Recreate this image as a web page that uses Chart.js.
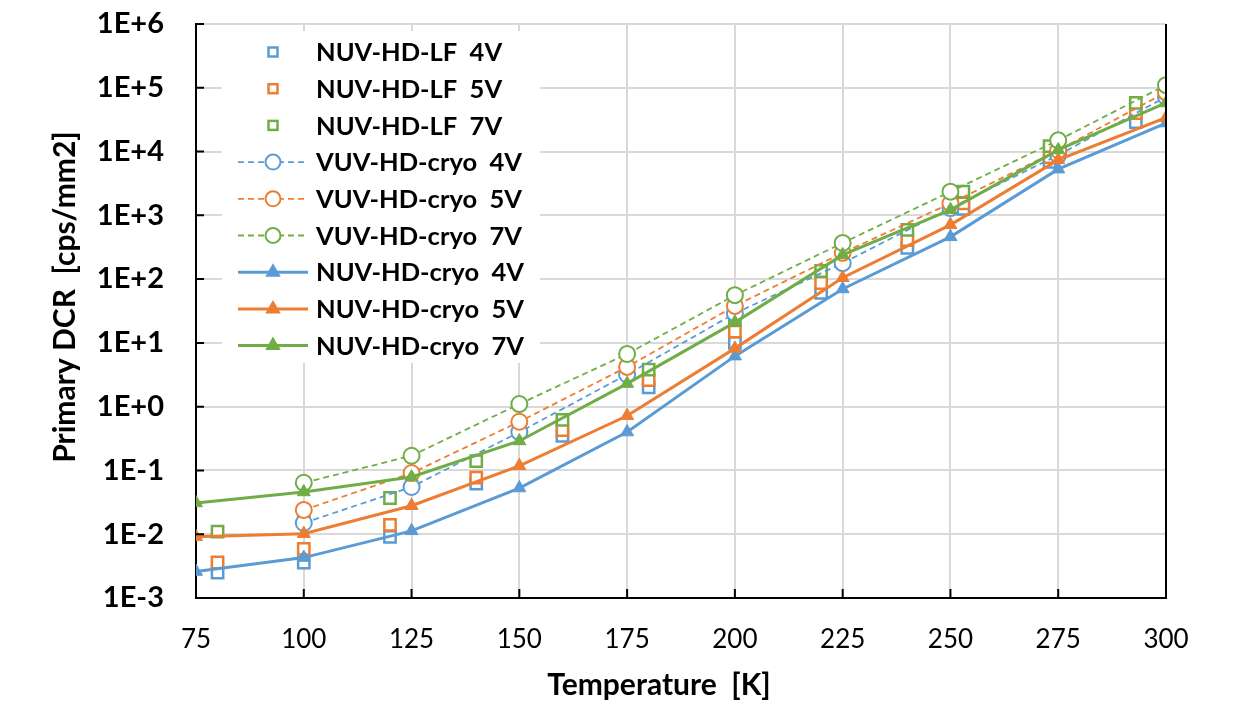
<!DOCTYPE html>
<html>
<head>
<meta charset="utf-8">
<script src="https://cdn.jsdelivr.net/npm/chart.js@4.4.1/dist/chart.umd.min.js"></script>
<style>
  html, body { margin: 0; padding: 0; background: #fff; }
  #wrap { width: 1235px; height: 701px; position: relative; }
</style>
</head>
<body>
<div id="wrap"><canvas id="dcrCanvas" width="1235" height="701"></canvas></div>
<script>
// --- data (Primary DCR in cps/mm2 vs temperature in K) ---
const lfTemps = [80, 100, 120, 140, 160, 180, 200, 220, 240, 253, 273, 293];
const lf4V = [0.0025, 0.0036, 0.0091, 0.062, 0.35, 2.0, 10, 61, 310, 1260, 6900, 29000];
const lf5V = [0.0036, 0.0059, 0.014, 0.077, 0.43, 2.6, 15, 87, 410, 1540, 8200, 40000];
const lf7V = [0.011, 0.019, 0.037, 0.14, 0.62, 3.8, 23, 134, 590, 2350, 12200, 58000];

const vuvTemps = [100, 125, 150, 175, 200, 225, 250, 275, 300];
const vuv4V = [0.015, 0.055, 0.40, 3.2, 29, 178, 1300, 8800, 72000];
const vuv5V = [0.024, 0.091, 0.58, 4.2, 38, 258, 1540, 10500, 85000];
const vuv7V = [0.064, 0.17, 1.1, 6.7, 56, 369, 2350, 15000, 110000];

const cryoTemps = [75, 100, 125, 150, 175, 200, 225, 250, 275, 300];
const cryo4V = [0.0026, 0.0043, 0.0113, 0.053, 0.40, 6.2, 70, 460, 5300, 28000];
const cryo5V = [0.0091, 0.0102, 0.028, 0.118, 0.72, 8.2, 105, 710, 7400, 34000];
const cryo7V = [0.031, 0.046, 0.079, 0.29, 2.3, 21, 240, 1220, 10600, 57800];

const seriesLabels = [
  'NUV-HD-LF  4V', 'NUV-HD-LF  5V', 'NUV-HD-LF  7V',
  'VUV-HD-cryo  4V', 'VUV-HD-cryo  5V', 'VUV-HD-cryo  7V',
  'NUV-HD-cryo  4V', 'NUV-HD-cryo  5V', 'NUV-HD-cryo  7V'
];

const xTicks = [75, 100, 125, 150, 175, 200, 225, 250, 275, 300];
const yTickValues = [1e-3, 1e-2, 1e-1, 1e0, 1e1, 1e2, 1e3, 1e4, 1e5, 1e6];
const yTickLabels = ['1E-3', '1E-2', '1E-1', '1E+0', '1E+1', '1E+2', '1E+3', '1E+4', '1E+5', '1E+6'];
const yTitle = 'Primary DCR  [cps/mm2]';
const xTitle = 'Temperature  [K]';

const BLUE = '#5b9bd5';
const ORANGE = '#ed7d31';
const GREEN = '#70ad47';
const GRID = '#d9d9d9';
const FONT = 'Lato, "Open Sans", sans-serif';

function pts(xs, ys) {
  return xs.map((x, i) => ({ x: x, y: ys[i] }));
}

function lfSet(label, xs, ys, color, order) {
  return {
    label: label, data: pts(xs, ys), showLine: false,
    pointStyle: 'rect', pointRadius: 8, pointBorderWidth: 2.5,
    borderColor: color, pointBorderColor: color, pointBackgroundColor: '#fff',
    order: order
  };
}
function vuvSet(label, xs, ys, color, order) {
  return {
    label: label, data: pts(xs, ys), showLine: true,
    borderColor: color, borderWidth: 1.8, borderDash: [6, 4],
    pointStyle: 'circle', pointRadius: 8, pointBorderWidth: 2,
    pointBorderColor: color, pointBackgroundColor: '#fff',
    order: order
  };
}
function cryoSet(label, xs, ys, color, order) {
  return {
    label: label, data: pts(xs, ys), showLine: true,
    borderColor: color, borderWidth: 3,
    pointStyle: 'triangle', pointRadius: 7.5, pointBorderWidth: 1,
    pointBorderColor: color, pointBackgroundColor: color,
    order: order
  };
}

const datasets = [
  lfSet(seriesLabels[0], lfTemps, lf4V, BLUE, 9),
  lfSet(seriesLabels[1], lfTemps, lf5V, ORANGE, 8),
  lfSet(seriesLabels[2], lfTemps, lf7V, GREEN, 7),
  vuvSet(seriesLabels[3], vuvTemps, vuv4V, BLUE, 6),
  vuvSet(seriesLabels[4], vuvTemps, vuv5V, ORANGE, 5),
  vuvSet(seriesLabels[5], vuvTemps, vuv7V, GREEN, 4),
  cryoSet(seriesLabels[6], cryoTemps, cryo4V, BLUE, 3),
  cryoSet(seriesLabels[7], cryoTemps, cryo5V, ORANGE, 2),
  cryoSet(seriesLabels[8], cryoTemps, cryo7V, GREEN, 1)
];

// inward tick marks, black right border and both axis titles (Excel style)
const framePlugin = {
  id: 'frame',
  afterDraw(chart) {
    const c = chart.ctx;
    const area = chart.chartArea;
    const xs = chart.scales.x;
    const ys = chart.scales.y;
    c.save();
    c.strokeStyle = '#000';
    c.lineWidth = 2;
    c.beginPath();
    c.moveTo(area.right, area.top);
    c.lineTo(area.right, area.bottom);
    yTickValues.forEach(v => {
      const py = ys.getPixelForValue(v);
      c.moveTo(area.left, py);
      c.lineTo(area.left + 8, py);
    });
    xTicks.forEach(v => {
      const px = xs.getPixelForValue(v);
      c.moveTo(px, area.bottom);
      c.lineTo(px, area.bottom - 9);
    });
    c.stroke();

    c.fillStyle = '#000';
    c.font = 'bold 30px ' + FONT;
    c.textAlign = 'center';
    c.textBaseline = 'middle';
    // titles sit a little off the plot centre in the original
    c.fillText(xTitle, 659, 685);
    c.translate(65, 297);
    c.rotate(-Math.PI / 2);
    c.fillText(yTitle, 0, 0);
    c.restore();
  }
};

// Excel-like legend box inside the plot, with line + marker samples
const legendPlugin = {
  id: 'boxLegend',
  afterDraw(chart) {
    const c = chart.ctx;
    const boxX = 222, boxY = 31, boxW = 318, boxH = 332;
    const rowY0 = 52, rowStep = 36.7;
    const symX = 273, lineX0 = 238, lineX1 = 308, textX = 316;
    c.save();
    c.fillStyle = '#fff';
    c.fillRect(boxX, boxY, boxW, boxH);
    chart.data.datasets.forEach((ds, i) => {
      const y = rowY0 + i * rowStep;
      const col = ds.borderColor;
      if (ds.showLine) {
        c.strokeStyle = col;
        c.lineWidth = ds.borderWidth;
        c.setLineDash(ds.borderDash || []);
        c.beginPath();
        c.moveTo(lineX0, y);
        c.lineTo(lineX1, y);
        c.stroke();
        c.setLineDash([]);
      }
      if (ds.pointStyle === 'rect') {
        c.fillStyle = '#fff';
        c.strokeStyle = col;
        c.lineWidth = 2.5;
        c.fillRect(symX - 4.5, y - 4.5, 9, 9);
        c.strokeRect(symX - 4.5, y - 4.5, 9, 9);
      } else if (ds.pointStyle === 'circle') {
        c.fillStyle = '#fff';
        c.strokeStyle = col;
        c.lineWidth = 2;
        c.beginPath();
        c.arc(symX, y, 7.5, 0, Math.PI * 2);
        c.fill();
        c.stroke();
      } else {
        const r = 9;
        c.fillStyle = col;
        c.beginPath();
        c.moveTo(symX, y - r);
        c.lineTo(symX + r * 0.866, y + r * 0.5);
        c.lineTo(symX - r * 0.866, y + r * 0.5);
        c.closePath();
        c.fill();
      }
      c.fillStyle = '#000';
      c.font = 'bold 25.5px ' + FONT;
      c.textAlign = 'left';
      c.textBaseline = 'middle';
      c.fillText(ds.label, textX, y + 1);
    });
    c.restore();
  }
};

const ctx = document.getElementById('dcrCanvas').getContext('2d');
new Chart(ctx, {
  type: 'line',
  data: { datasets: datasets },
  options: {
    responsive: false,
    animation: false,
    events: [],
    layout: { padding: { left: 0, right: 69, top: 24, bottom: 0 } },
    plugins: {
      legend: { display: false },
      tooltip: { enabled: false }
    },
    scales: {
      x: {
        type: 'linear',
        min: 75, max: 300,
        afterBuildTicks: s => { s.ticks = xTicks.map(v => ({ value: v })); },
        afterFit: s => { s.height = 103; },
        grid: { color: GRID, lineWidth: 2, drawTicks: false },
        border: { display: true, color: '#000', width: 2 },
        ticks: {
          padding: 26, color: '#000',
          font: { family: FONT, size: 26 }
        },
        title: { display: false }
      },
      y: {
        type: 'logarithmic',
        min: 1e-3, max: 1e6,
        afterBuildTicks: s => { s.ticks = yTickValues.map(v => ({ value: v })); },
        afterFit: s => { s.width = 196; s.paddingTop = 0; s.paddingBottom = 0; },
        grid: { color: GRID, lineWidth: 2, drawTicks: false },
        border: { display: true, color: '#000', width: 2 },
        ticks: {
          padding: 32, color: '#000',
          font: { family: FONT, size: 29, weight: 'bold' },
          callback: (v, i) => yTickLabels[i]
        },
        title: { display: false }
      }
    }
  },
  plugins: [framePlugin, legendPlugin]
});
</script>
</body>
</html>
